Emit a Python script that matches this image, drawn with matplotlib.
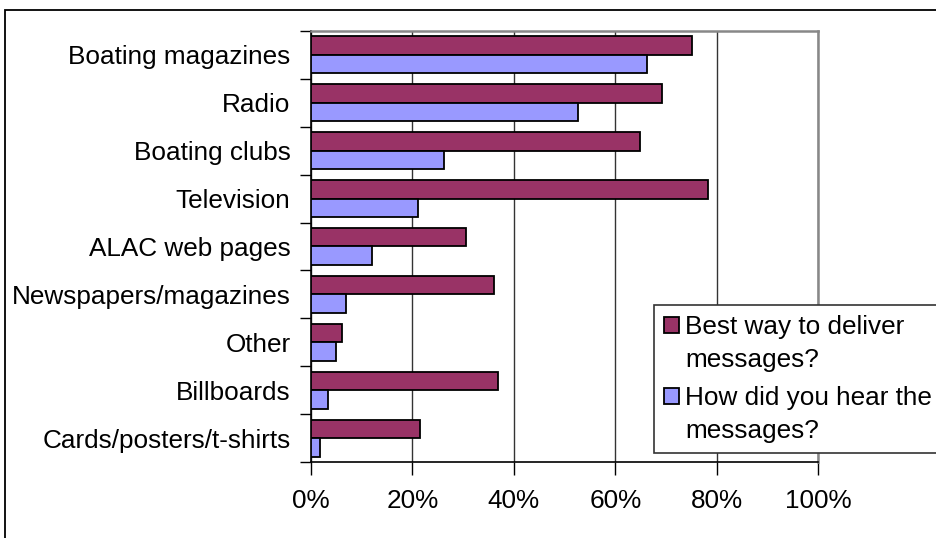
import matplotlib
matplotlib.use("Agg")
import matplotlib.pyplot as plt
from matplotlib.patches import Rectangle
from matplotlib.container import BarContainer
from matplotlib.legend_handler import HandlerPatch
from matplotlib.ticker import FixedLocator, FuncFormatter

plt.rcParams['font.family'] = ['Liberation Sans', 'DejaVu Sans']

categories = ["Boating magazines", "Radio", "Boating clubs", "Television",
              "ALAC web pages", "Newspapers/magazines", "Other", "Billboards",
              "Cards/posters/t-shirts"]
best_way = [75.1, 69.2, 64.8, 78.3, 30.5, 36.1, 6.2, 36.9, 21.6]
heard_from = [66.3, 52.6, 26.2, 21.1, 12.1, 6.9, 5.0, 3.4, 1.8]
series_names = ["Best way to deliver\nmessages?", "How did you hear the\nmessages?"]
x_ticks = [0, 20, 40, 60, 80, 100]

maroon = "#993366"
lilac = "#9999FF"
fs = 18.8

fig = plt.figure(figsize=(9.36, 5.38), dpi=100)
ax = fig.add_axes([0.332, 0.1407, 0.5423, 0.8023])

bar_h = 0.38
pos = list(range(len(categories)))
ax.barh([p - bar_h / 2 for p in pos], best_way, height=bar_h, color=maroon,
        edgecolor="black", linewidth=1.3, label=series_names[0], zorder=3)
ax.barh([p + bar_h / 2 for p in pos], heard_from, height=bar_h, color=lilac,
        edgecolor="black", linewidth=1.3, label=series_names[1], zorder=3)

ax.set_xlim(0, 100)
ax.set_ylim(len(categories) - 0.5, -0.5)

ax.set_xticks(x_ticks)
ax.xaxis.set_major_formatter(FuncFormatter(lambda v, _: f"{v:.0f}%"))
ax.tick_params(axis="x", direction="out", length=9, width=1, pad=10, labelsize=fs)
ax.grid(axis="x", color="#333333", linewidth=1, zorder=0)

ax.set_yticks(pos)
ax.set_yticklabels(categories)
ax.yaxis.set_minor_locator(FixedLocator([p - 0.5 for p in pos] + [len(pos) - 0.5]))
ax.tick_params(axis="y", which="major", length=0, pad=14.5, labelsize=fs)
ax.tick_params(axis="y", which="minor", length=8, width=1, direction="out")

for side in ("top", "right"):
    ax.spines[side].set_color("#888888")
    ax.spines[side].set_linewidth(1.8)
for side in ("left", "bottom"):
    ax.spines[side].set_color("black")
    ax.spines[side].set_linewidth(1.2)


def top_square(legend, orig_handle, xdescent, ydescent, width, height, fontsize):
    # put the key beside the first line of a two-line label
    return Rectangle((-xdescent, -ydescent + 0.72 * fontsize), width, height)


handler = HandlerPatch(patch_func=top_square,
                       update_func=lambda h, o: h.update_from(o.patches[0]))
leg = ax.legend(loc="upper left", bbox_to_anchor=(0.6987, 0.333, 0.33, 0.1),
                bbox_transform=fig.transFigure, mode="expand", fontsize=fs,
                handlelength=0.55, handleheight=0.55, handletextpad=0.25,
                labelspacing=0.55, borderpad=0.4, borderaxespad=0,
                fancybox=False, framealpha=1, edgecolor="#333333",
                handler_map={BarContainer: handler})
leg.get_frame().set_linewidth(1.2)
for t in leg.get_texts():
    t.set_linespacing(1.45)
for h in leg.legend_handles:
    h.set_edgecolor("black")
    h.set_linewidth(1.3)

# outer chart border
fig.patches.append(Rectangle((5 / 936, -0.1), 1.2, 1.1 - 10 / 538,
                             transform=fig.transFigure, fill=False,
                             edgecolor="black", linewidth=1.3))

fig.savefig("out.png", dpi=100)
